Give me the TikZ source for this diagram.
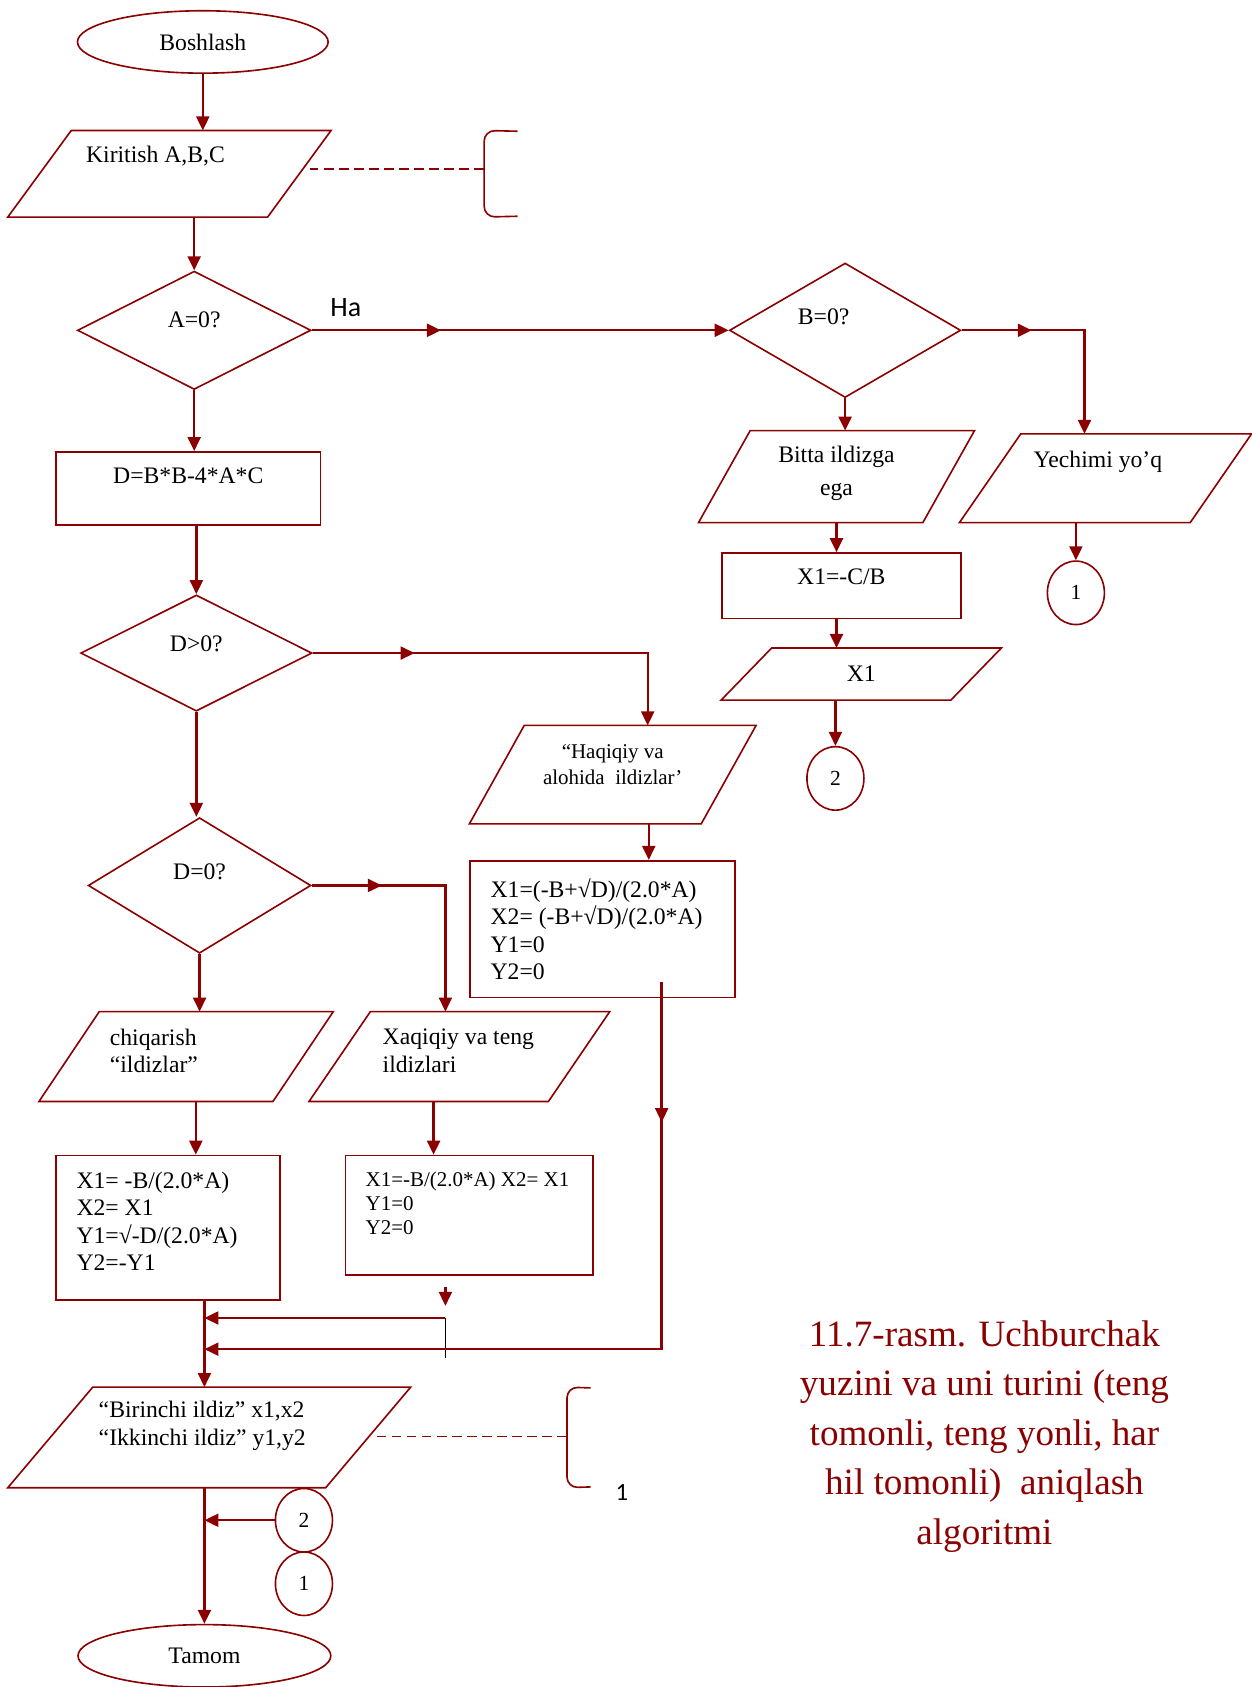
\documentclass[tikz,border=0pt]{standalone}
\usepackage{fontspec}
\setmainfont{Liberation Serif}
\newfontfamily\sansfnt{Carlito}
\usetikzlibrary{shapes.geometric,arrows.meta,decorations.markings}
\definecolor{lc}{RGB}{139,0,0}
\begin{document}
\begin{tikzpicture}[x=1pt,y=-1pt,>={Triangle[length=13pt,width=12pt]},
  ln/.style={draw=lc,line width=1.5pt},
  shp/.style={ln,inner sep=0pt,font=\fontsize{22}{25.5}\selectfont},
  term/.style={shp,ellipse},
  io/.style={shp,draw=none,rectangle},
  proc/.style={shp,rectangle},
  dec/.style={shp,diamond},
  con/.style={shp,ellipse,minimum width=53,minimum height=59,font=\fontsize{20}{24}\selectfont},
  txt/.style={inner sep=0pt,align=left,font=\fontsize{22}{25.5}\selectfont},
  small/.style={font=\fontsize{19.5}{22.5}\selectfont},
  arr/.style={->,draw=lc,line width=2.2pt},
  mid/.style={postaction={decorate},decoration={markings,mark=at position #1 with {\arrow[lc]{>}}}},
  note/.style={draw=lc,line width=1.4pt,dash pattern=on 9pt off 5pt},
  brk/.style={ln,rounded corners=10pt}]
\useasboundingbox (0,0) rectangle (1163,1568);

\node[term,minimum width=233,minimum height=58] (start) at (188.5,39) {Boshlash};
\node[io,minimum width=299,minimum height=79,label={[txt,xshift=-13pt,yshift=16.5pt]center:{Kiritish A,B,C}}] (inp) at (157.5,161.5) {};
\node[dec,minimum width=217,minimum height=110,label={[txt,yshift=10pt]center:{A=0?}}] (a0) at (180.5,307) {};
\node[font=\sansfnt\fontsize{26}{30}\selectfont,inner sep=0pt] (ha) at (321.5,286) {Ha};
\node[dec,minimum width=215,minimum height=125,label={[txt,xshift=-20pt,yshift=13pt]center:{B=0?}}] (b0) at (785.5,307) {};
\node[io,minimum width=255,minimum height=84,label={[txt,align=center,font=\fontsize{22}{30}\selectfont,yshift=3pt]center:{Bitta ildizga\\ega}}] (one) at (777.5,443) {};
\node[io,minimum width=270,minimum height=81,label={[txt,xshift=-7pt,yshift=15.5pt]center:{Yechimi yo’q}}] (none) at (1027.5,444.5) {};
\node[con] (c1a) at (1000,551) {1};
\node[proc,minimum width=222,minimum height=61,label={[txt,yshift=8.5pt]center:{X1=-C/B}}] (x1cb) at (782,544.5) {};
\node[io,minimum width=259,minimum height=47] (x1out) at (800.5,626.5) {X1};
\node[con] (c2a) at (776.5,723.5) {2};

\node[proc,minimum width=246,minimum height=68,label={[txt,yshift=12pt]center:{D=B*B-4*A*C}}] (dcalc) at (175,454) {};
\node[dec,minimum width=215,minimum height=108,label={[txt,yshift=9pt]center:{D>0?}}] (dpos) at (182.5,607) {};
\node[io,minimum width=265,minimum height=90,label={[txt,align=center,font=\fontsize{19.5}{24}\selectfont,yshift=9pt]center:{“Haqiqiy va\\alohida\ \ ildizlar’}}] (haq) at (569.5,720) {};
\node[proc,minimum width=246,minimum height=127,label={[txt,xshift=-5.5pt]center:{X1=(-B+√D)/(2.0*A)\\X2= (-B+√D)/(2.0*A)\\Y1=0\\Y2=0}}] (roots2) at (560,863.5) {};
\node[dec,minimum width=207,minimum height=126,label={[txt,yshift=13pt]center:{D=0?}}] (dzero) at (185.5,823) {};
\node[io,minimum width=272,minimum height=82,label={[txt,xshift=-30pt,yshift=5.5pt]center:{chiqarish\\“ildizlar”}}] (chiq) at (173,982) {};
\node[io,minimum width=278,minimum height=82,label={[txt,xshift=-1pt,yshift=5.5pt]center:{Xaqiqiy va teng\\ildizlari}}] (xaq) at (427,982) {};
\node[proc,minimum width=208,minimum height=134,label={[txt,xshift=-10pt,yshift=6pt]center:{X1= -B/(2.0*A)\\X2= X1\\Y1=√-D/(2.0*A)\\Y2=-Y1}}] (roots1) at (156,1141) {};
\node[proc,minimum width=230,minimum height=111,label={[txt,small,xshift=-1.5pt,yshift=11pt]center:{X1=-B/(2.0*A) X2= X1\\Y1=0\\Y2=0}}] (roots0) at (436,1129.5) {};
\node[io,minimum width=373,minimum height=92,label={[txt,font=\fontsize{22}{26}\selectfont,xshift=-6.5pt,yshift=11pt]center:{“Birinchi ildiz” x1,x2\\“Ikkinchi ildiz” y1,y2}}] (outp) at (194.5,1336) {};
\node[con] (c2b) at (282.5,1413) {2};
\node[con] (c1b) at (282.5,1472) {1};
\node[term,minimum width=235,minimum height=58] (stop) at (190,1539) {Tamom};
\node[font=\sansfnt\fontsize{23}{27}\selectfont,inner sep=0pt] (mk1) at (578,1387) {1};
\node[align=center,text=lc,font=\fontsize{34.5}{46}\selectfont] (cap) at (915,1335) {11.7-rasm. Uchburchak\\yuzini va uni turini (teng\\tomonli, teng yonli, har\\hil tomonli)\ \ aniqlash\\algoritmi};

\foreach \n/\s in {inp/59,one/48,none/57,x1out/47,haq/51,chiq/56,xaq/57,outp/79}
  \draw[ln] ([xshift=\s]\n.north west) -- (\n.north east) -- ([xshift=-\s]\n.south east) -- (\n.south west) -- cycle;

\coordinate (n1) at (450,157);
\coordinate (n2) at (527,1335);
\coordinate (bt) at (1008,307);
\coordinate (m1) at (190,1225);
\coordinate (m2) at (190,1254);
\coordinate (s1) at (414,1225);

\draw[arr] (start.south) -- (start.south |- inp.north);
\draw[arr] (a0.north |- inp.south) -- (a0.north);
\draw[arr,mid=.31] (a0.east) -- (b0.west);
\draw[arr,mid=.31] (b0.east) -- (bt) -- (bt |- none.north);
\draw[arr] (b0.south) -- (b0.south |- one.north);
\draw[arr] (one.south) -- (one.south |- x1cb.north);
\draw[arr] (one.south |- x1cb.south) -- (one.south |- x1out.north);
\draw[arr] (c2a.north |- x1out.south) -- (c2a.north);
\draw[arr] (c1a.north |- none.south) -- (c1a.north);
\draw[arr] (a0.south) -- (a0.south |- dcalc.north);
\draw[arr] (dpos.north |- dcalc.south) -- (dpos.north);
\draw[arr,mid=.25] (dpos.east) -| ([xshift=32.5pt]haq.north);
\draw[arr] ([xshift=33.5pt]haq.south) -- ([xshift=33.5pt]haq.south |- roots2.north);
\draw[arr] (dpos.south) -- (dpos.south |- dzero.north);
\draw[arr,mid=.27] (dzero.east) -| ([xshift=-13pt]xaq.north);
\draw[arr] ([xshift=-24pt]xaq.south) -- ([xshift=-24pt]xaq.south |- roots0.north);
\draw[arr] (dzero.south) -- (dzero.south |- chiq.north);
\draw[arr] ([xshift=9pt]chiq.south) -- ([xshift=9pt]chiq.south |- roots1.north);
\draw[arr] (m1 |- roots1.south) -- (m1 |- outp.north);
\draw[arr] (stop.north |- outp.south) -- (stop.north);
\draw[arr] ([xshift=-22pt,yshift=-10pt]roots0.south) -- ++(0,18);
\draw[arr] (s1) -- (m1);
\draw[black,line width=1.2pt] (s1) -- ++(0,37);
\draw[arr,mid=.17] ([xshift=55pt,yshift=15pt]roots2.south) |- (m2);
\draw[arr] (c2b.west) -- (c2b.west -| m1);

\draw[note] (n1) -- ++(-162,0);
\draw[brk] (481,122) -- (n1 |- inp.north) -- (n1 |- inp.south) -- (481,201);
\draw[note] (n2) -- ++(-180,0);
\draw[brk] (549,1290) -- (n2 |- outp.north) -- (n2 |- outp.south) -- (549,1382);
\end{tikzpicture}
\end{document}
